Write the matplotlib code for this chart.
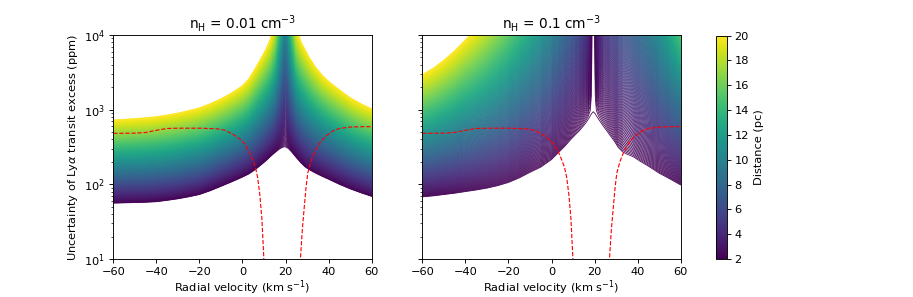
import numpy as np
import matplotlib
matplotlib.use("Agg")
import matplotlib.pyplot as plt
from matplotlib import cm, colors

# distances of the model stars (pc)
distances = np.linspace(2, 20, 300)

# n_H = 0.01 cm^-3 : uncertainty at 2 pc (ppm) and its growth with distance (dex per pc)
vel_low = [-60, -55, -50, -45, -40, -35, -30, -25, -20, -15, -10, -5, 0, 3, 6, 9, 11,
           13, 15, 17, 18.5, 19.5, 20.5, 21.5, 23, 25, 27, 29, 31, 34, 37, 40, 45,
           50, 55, 60]
unc2_low = [56, 56.5, 57, 57.5, 58.5, 61, 64, 68, 73, 82, 94, 108, 125, 138, 158, 186,
            208, 236, 265, 295, 312, 319, 313, 298, 268, 228, 196, 172, 157, 141,
            128, 117, 100, 87, 77, 69]
grow_low = [0.0619, 0.0622, 0.0625, 0.0629, 0.0633, 0.0635, 0.0638, 0.0642, 0.0645,
            0.0648, 0.0652, 0.0662, 0.0681, 0.0708, 0.0755, 0.0799, 0.0833, 0.0876,
            0.0986, 0.1275, 0.1673, 0.1995, 0.188, 0.1526, 0.1209, 0.0966, 0.0904,
            0.0873, 0.0835, 0.0788, 0.0753, 0.0729, 0.0704, 0.0679, 0.0663, 0.0652]

# n_H = 0.1 cm^-3
vel_high = [-60, -55, -50, -45, -40, -35, -30, -25, -20, -15, -10, -5, 0, 3, 6, 9, 11,
            13, 14.5, 16, 17, 18, 18.5, 19.4, 20.3, 20.8, 21.8, 22.8, 24, 25.5, 27,
            29, 31, 33, 35, 38, 41, 45, 50, 55, 60]
unc2_high = [68, 70, 73, 76, 80, 84, 89, 96, 106, 122, 145, 170, 215, 262, 320, 400,
             460, 525, 590, 670, 740, 830, 880, 939, 880, 830, 750, 680, 605, 530, 460,
             385, 312, 272, 254, 234, 205, 175, 141, 118, 98]
grow_high = [0.091, 0.095, 0.100, 0.106, 0.113, 0.120, 0.128, 0.137, 0.147, 0.159,
             0.173, 0.191, 0.213, 0.230, 0.252, 0.280, 0.305, 0.345, 0.395, 0.48, 0.6,
             1.2, 4.0, 40.0, 4.0, 1.2, 0.68, 0.57, 0.50, 0.46, 0.425, 0.395, 0.37,
             0.35, 0.33, 0.30, 0.275, 0.245, 0.21, 0.18, 0.155]

# expected transit signal (red dashed), same in both panels
sig_vel_a = [-60, -50, -45, -40, -35, -30, -20, -12, -8, -4, -1, 1, 3, 4.5, 6, 7,
             8, 9, 9.8, 10.3]
sig_a = [482, 485, 495, 530, 560, 565, 565, 555, 530, 460, 400, 350, 280, 220, 170,
         125, 75, 35, 12, 5]
sig_vel_b = [26.5, 26.9, 27.8, 28.7, 29.5, 30.3, 31.5, 32.6, 34.5, 36.5, 39, 42, 45,
             50, 55, 60]
sig_b = [5, 10, 25, 50, 90, 141, 190, 234, 310, 380, 450, 520, 560, 585, 592, 592]

panels = [
    (0.01, vel_low, unc2_low, grow_low),
    (0.1, vel_high, unc2_high, grow_high),
]

DPI = 82
fig = plt.figure(figsize=(913 / DPI, 297 / DPI), dpi=DPI)
ax1 = fig.add_axes([0.1241, 0.1279, 0.2830, 0.7542])
ax2 = fig.add_axes([0.4626, 0.1279, 0.2830, 0.7542], sharey=ax1)
cax = fig.add_axes([0.7839, 0.1279, 0.0120, 0.7520])

norm = colors.Normalize(vmin=2, vmax=20)
cmap = plt.get_cmap("viridis")

for ax, (nh, vel, unc2, grow) in zip([ax1, ax2], panels):
    vel = np.array(vel)
    logu = np.log10(unc2)
    grow = np.array(grow)
    for d in distances:
        ax.plot(vel, 10 ** (logu + grow * (d - 2)), color=cmap(norm(d)), lw=0.7)
    ax.plot(sig_vel_a, sig_a, 'r--', lw=1.0)
    ax.plot(sig_vel_b, sig_b, 'r--', lw=1.0)
    ax.set_yscale('log')
    ax.set_xlim(-60, 60)
    ax.set_ylim(10, 1e4)
    ax.set_xlabel(r'Radial velocity (km s$^{-1}$)', labelpad=1.5)
    ax.set_title(r'n$_\mathrm{H}$ = %s cm$^{-3}$' % nh)

ax1.set_ylabel(r'Uncertainty of Ly$\alpha$ transit excess (ppm)')
ax2.tick_params(labelleft=False, which='both')

sm = cm.ScalarMappable(norm=norm, cmap=cmap)
cb = fig.colorbar(sm, cax=cax)
cb.set_ticks(np.arange(2, 21, 2))
cb.set_label('Distance (pc)')

fig.savefig('out.png', dpi=DPI)
